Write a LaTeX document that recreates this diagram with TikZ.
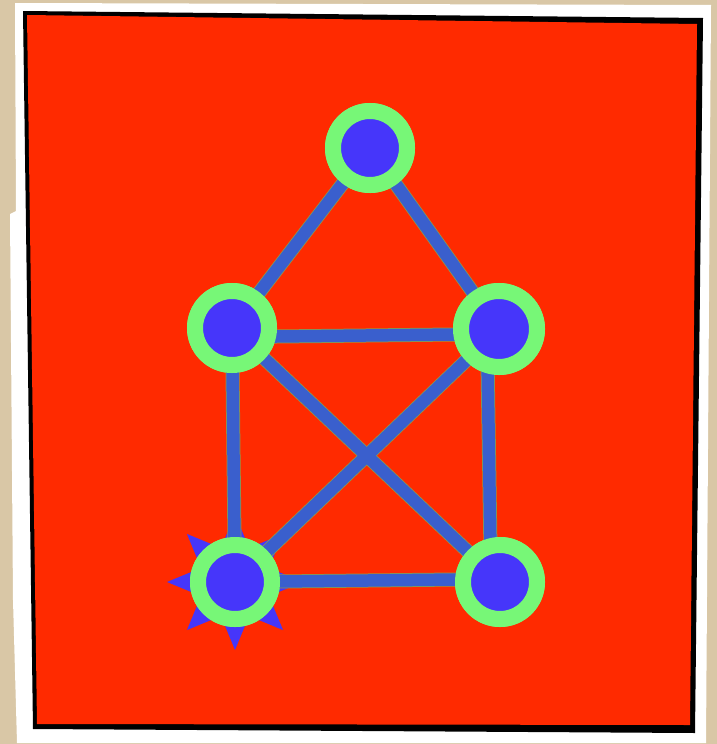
\documentclass[tikz,border=0pt]{standalone}
\usetikzlibrary{shapes.geometric}
\definecolor{beige}{HTML}{D9C7A6}
\definecolor{redbg}{HTML}{FF2A00}
\definecolor{ringgreen}{HTML}{77F777}
\definecolor{coreblue}{HTML}{4636FA}
\definecolor{edgeblue}{HTML}{3A5FCD}
\definecolor{edgeolive}{HTML}{8E9A4E}
\tikzset{
  vert/.style={circle, draw=ringgreen, fill=coreblue, line width=16pt, minimum size=74pt, inner sep=0pt},
  link/.style={draw=edgeblue, line width=12.5pt},
  linkshade/.style={draw=edgeolive, line width=14pt},
  burst/.style={star, star points=8, star point ratio=1.85, minimum size=136pt, inner sep=0pt, fill=coreblue, draw=none}
}
\begin{document}
\begin{tikzpicture}[x=1pt,y=-1pt]
\useasboundingbox (0,0) rectangle (717,744);
\fill[beige] (0,0) rectangle (717,744);
% paper
\fill[white] (15,3) -- (711,5) -- (706,743) -- (17,743) -- (13,600) -- (10,214) -- (16,211) -- cycle;
% black frame
\fill[black] (23,11) -- (703,18) -- (695,733) -- (33,729) -- cycle;
% red
\fill[redbg] (27,15) -- (697,24) -- (690,725) -- (37,724) -- cycle;
% star burst (behind everything else)
\node[burst] (st) at (235,582) {};
% vertices (drawn now for names, redrawn on top later)
\node[vert] (t) at (370,148) {};
\node[vert] (ml) at (232,328) {};
\node[vert, minimum size=76pt] (mr) at (499,329) {};
\node[vert] (bl) at (235,582) {};
\node[vert] (br) at (500,582) {};
% edges: thin olive rim, then blue
\foreach \s in {linkshade, link}{
  \draw[\s] (t.center) -- (ml.center);
  \draw[\s] (t.center) -- (mr.center);
  \draw[\s] ([yshift=-9pt]ml.center) -- ([yshift=-5pt]mr.center);
  \draw[\s] (ml.center) -- (bl.center);
  \draw[\s] ([xshift=-12pt]mr.center) -- ([xshift=-9pt]br.center);
  \draw[\s] (ml.center) -- (br.center);
  \draw[\s] (mr.center) -- (bl.center);
  \draw[\s] (bl.center) -- ([yshift=3pt]br.center);
}
% vertices on top
\node[vert] at (t) {};
\node[vert] at (ml) {};
\node[vert, minimum size=76pt] at (mr) {};
\node[vert] at (bl) {};
\node[vert] at (br) {};
\end{tikzpicture}
\end{document}
